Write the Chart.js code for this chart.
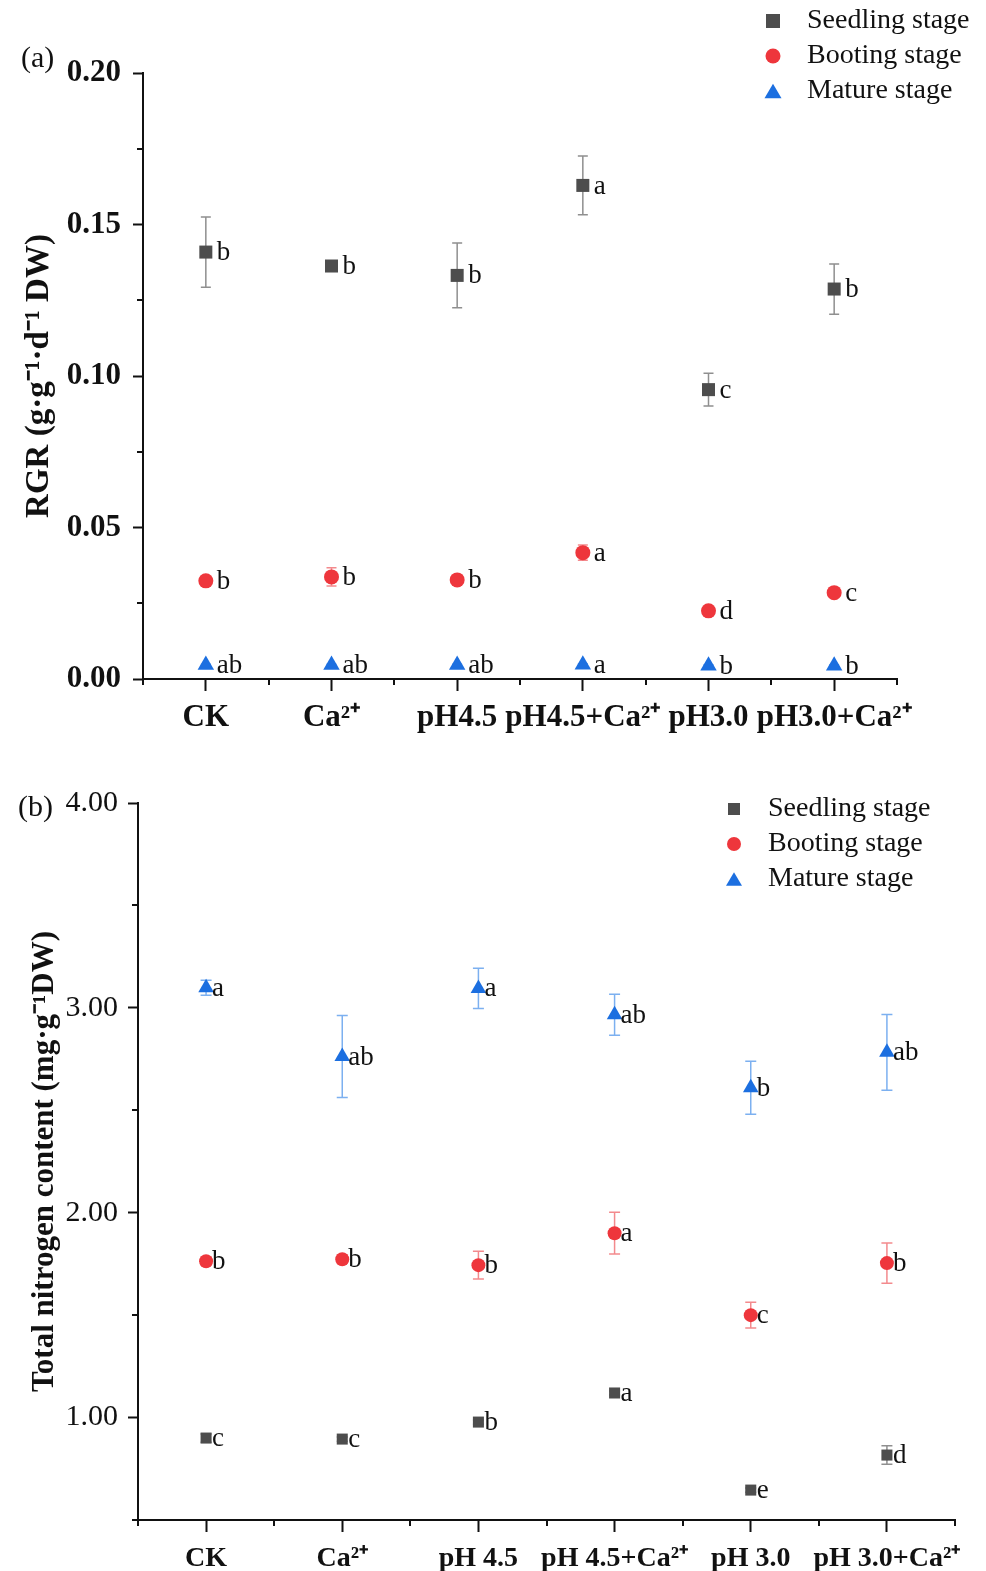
<!DOCTYPE html>
<html><head><meta charset="utf-8">
<script src="https://cdn.jsdelivr.net/npm/chart.js@4.4.1/dist/chart.umd.min.js"></script>
<style>
html,body{margin:0;padding:0;background:#fff;}
#wrap{position:relative;width:986px;height:1571px;overflow:hidden;background:#fff;}
canvas{position:absolute;left:0;}
#cA{top:0;}
#cB{top:745px;}
.panel{position:absolute;font-family:'Liberation Serif','Times New Roman',serif;font-size:30px;color:#111;line-height:36px;}
</style></head><body>
<div id="wrap">
<canvas id="cA" width="986" height="745"></canvas>
<canvas id="cB" width="986" height="826"></canvas>
<div class="panel" style="left:21px;top:39px;">(a)</div>
<div class="panel" style="left:18px;top:788px;">(b)</div>
</div>
<script>
const SERIF = "'Liberation Serif', 'Times New Roman', serif";
Chart.defaults.font.family = SERIF;
Chart.defaults.color = '#111';

// ---------- data ----------
const seriesNames = ['Seedling stage', 'Booting stage', 'Mature stage'];
const categoriesA = ['CK', 'Ca²⁺', 'pH4.5', 'pH4.5+Ca²⁺', 'pH3.0', 'pH3.0+Ca²⁺'];
const categoriesB = ['CK', 'Ca²⁺', 'pH 4.5', 'pH 4.5+Ca²⁺', 'pH 3.0', 'pH 3.0+Ca²⁺'];
const xTickValues = [0, 1, 2, 3, 4, 5];
const xMinorValues = [-0.5, 0.5, 1.5, 2.5, 3.5, 4.5, 5.5];

// (a) RGR
const rgrTicks = [0, 0.05, 0.10, 0.15, 0.20];
const rgrMinor = [0.025, 0.075, 0.125, 0.175];
const rgrSeedling    = [0.1409, 0.1363, 0.1332, 0.1629, 0.0955, 0.1287];
const rgrSeedlingErr = [0.0116, 0.0015, 0.0107, 0.0097, 0.0054, 0.0083];
const rgrBooting     = [0.0324, 0.0337, 0.0327, 0.0417, 0.0225, 0.0285];
const rgrBootingErr  = [0.0008, 0.0030, 0.0008, 0.0025, 0.0008, 0.0008];
const rgrMature      = [0.0046, 0.0046, 0.0046, 0.0047, 0.0044, 0.0044];
const rgrMatureErr   = [0.0003, 0.0003, 0.0003, 0.0003, 0.0003, 0.0003];
const rgrLettersSeedling = ['b', 'b', 'b', 'a', 'c', 'b'];
const rgrLettersBooting  = ['b', 'b', 'b', 'a', 'd', 'c'];
const rgrLettersMature   = ['ab', 'ab', 'ab', 'a', 'b', 'b'];

// (b) Total nitrogen content
const tnTicks = [1, 2, 3, 4];
const tnMinor = [0.5, 1.5, 2.5, 3.5];
const tnSeedling    = [0.900, 0.895, 0.978, 1.120, 0.646, 0.817];
const tnSeedlingErr = [0.020, 0.010, 0.010, 0.010, 0.010, 0.045];
const tnBooting     = [1.763, 1.773, 1.744, 1.900, 1.500, 1.754];
const tnBootingErr  = [0.020, 0.020, 0.068, 0.102, 0.063, 0.098];
const tnMature      = [3.098, 2.763, 3.095, 2.966, 2.610, 2.783];
const tnMatureErr   = [0.037, 0.200, 0.098, 0.100, 0.129, 0.185];
const tnLettersSeedling = ['c', 'c', 'b', 'a', 'e', 'd'];
const tnLettersBooting  = ['b', 'b', 'b', 'a', 'c', 'b'];
const tnLettersMature   = ['a', 'ab', 'a', 'ab', 'b', 'ab'];

// ---------- styles ----------
const seriesColors = ['#4d4d4d', '#ee363c', '#1c6fe0'];
const errorColors  = ['#8f8f8f', '#f38a8d', '#7cb0f0'];
const pointStyles  = ['rect', 'circle', 'triangle'];

function iconCanvas(shape, color, size) {
  const c = document.createElement('canvas');
  c.width = 24; c.height = 24;
  const g = c.getContext('2d');
  g.fillStyle = color;
  const m = 12;
  if (shape === 'rect') {
    g.fillRect(m - size / 2, m - size / 2, size, size);
  } else if (shape === 'circle') {
    g.beginPath(); g.arc(m, m, size / 2, 0, Math.PI * 2); g.fill();
  } else {
    const h = size * 0.85;
    g.beginPath(); g.moveTo(m, m - h / 2); g.lineTo(m + size / 2, m + h / 2); g.lineTo(m - size / 2, m + h / 2); g.closePath(); g.fill();
  }
  return c;
}

// ---------- plugins ----------
const floatLegend = {
  id: 'floatLegend',
  beforeLayout(chart) {
    const lg = chart.legend;
    if (lg && !lg._floatPatched) {
      const orig = lg.fit.bind(lg);
      lg.fit = function () { orig(); this.width = 0; };
      lg._floatPatched = true;
    }
  },
  afterLayout(chart, args, opts) {
    const lg = chart.legend;
    if (!lg) return;
    lg.left = opts.x; lg.top = opts.y;
    lg.width = 260; lg.height = 200;
    lg.right = lg.left + lg.width; lg.bottom = lg.top + lg.height;
  }
};

const errorBars = {
  id: 'errorBars',
  beforeDatasetsDraw(chart, args, opts) {
    const { ctx, scales: { x, y } } = chart;
    chart.data.datasets.forEach((ds, i) => {
      const errs = opts.errors[i];
      ctx.save();
      ctx.strokeStyle = errorColors[i];
      ctx.lineWidth = opts.width;
      ds.data.forEach((pt, j) => {
        const e = errs[j];
        const px = x.getPixelForValue(pt.x);
        const t = y.getPixelForValue(pt.y + e);
        const b = y.getPixelForValue(pt.y - e);
        ctx.beginPath();
        ctx.moveTo(px, t); ctx.lineTo(px, b);
        ctx.moveTo(px - opts.cap, t); ctx.lineTo(px + opts.cap, t);
        ctx.moveTo(px - opts.cap, b); ctx.lineTo(px + opts.cap, b);
        ctx.stroke();
      });
      ctx.restore();
    });
  }
};

const sigLetters = {
  id: 'sigLetters',
  afterDatasetsDraw(chart, args, opts) {
    const { ctx, scales: { x, y } } = chart;
    ctx.save();
    ctx.font = opts.font;
    ctx.fillStyle = '#111';
    ctx.textAlign = 'left';
    ctx.textBaseline = 'middle';
    chart.data.datasets.forEach((ds, i) => {
      ds.data.forEach((pt, j) => {
        ctx.fillText(opts.letters[i][j], x.getPixelForValue(pt.x) + opts.dx, y.getPixelForValue(pt.y) + opts.dy);
      });
    });
    ctx.restore();
  }
};

const minorTicks = {
  id: 'minorTicks',
  afterDraw(chart, args, opts) {
    const { ctx, chartArea, scales: { x, y } } = chart;
    ctx.save();
    ctx.strokeStyle = '#111';
    ctx.lineWidth = 2;
    ctx.beginPath();
    opts.xValues.forEach(v => {
      const px = Math.round(x.getPixelForValue(v));
      ctx.moveTo(px, chartArea.bottom); ctx.lineTo(px, chartArea.bottom + opts.len);
    });
    opts.yValues.forEach(v => {
      const py = Math.round(y.getPixelForValue(v));
      ctx.moveTo(chartArea.left, py); ctx.lineTo(chartArea.left - opts.len, py);
    });
    ctx.stroke();
    ctx.restore();
  }
};

function buildChart(p) {
  const datasets = p.series.map((vals, i) => ({
    label: seriesNames[i],
    data: vals.map((v, j) => ({ x: xTickValues[j], y: v })),
    pointStyle: pointStyles[i],
    pointRadius: p.radii[i],
    pointHoverRadius: p.radii[i],
    backgroundColor: seriesColors[i],
    borderColor: seriesColors[i],
    borderWidth: 0,
    showLine: false
  }));
  const icons = p.iconSizes.map((s, i) => iconCanvas(pointStyles[i], seriesColors[i], s));
  return new Chart(document.getElementById(p.id), {
    type: 'scatter',
    data: { datasets },
    options: {
      responsive: false,
      animation: false,
      devicePixelRatio: 1,
      layout: { padding: { left: 0, top: p.padTop, right: p.padRight, bottom: 0 } },
      scales: {
        x: {
          type: 'linear', min: -0.5, max: 5.5,
          afterBuildTicks: s => { s.ticks = xTickValues.map(v => ({ value: v })); },
          afterFit: s => { s.height = p.xAxisH; },
          ticks: {
            autoSkip: false, maxRotation: 0, minRotation: 0,
            padding: p.xTickPad, color: '#111',
            font: { family: SERIF, size: p.xFontSize, weight: 'bold' },
            callback: v => p.categories[v]
          },
          grid: { drawOnChartArea: false, drawTicks: true, tickLength: 12, tickWidth: 2, tickColor: '#111' },
          border: { display: true, color: '#111', width: 2 }
        },
        y: {
          type: 'linear', min: p.yMin, max: p.yMax,
          afterBuildTicks: s => { s.ticks = p.yTicks.map(v => ({ value: v })); },
          afterFit: s => { s.width = p.yAxisW; },
          ticks: {
            padding: p.yTickPad, color: '#111',
            font: { family: SERIF, size: p.yFontSize, weight: p.yFontWeight },
            callback: v => Number(v).toFixed(2)
          },
          grid: { drawOnChartArea: false, drawTicks: true, tickLength: 10, tickWidth: 2, tickColor: '#111' },
          border: { display: true, color: '#111', width: 2 },
          title: {
            display: true, text: p.yTitle, color: '#111',
            font: { family: SERIF, size: p.yTitleSize, weight: 'bold' },
            padding: { top: p.yTitlePad, bottom: 0 }
          }
        }
      },
      plugins: {
        tooltip: { enabled: false },
        legend: {
          display: true, position: 'right', align: 'start',
          labels: {
            usePointStyle: true, pointStyleWidth: 40, padding: 7, color: '#111',
            font: { family: SERIF, size: 28 },
            generateLabels(chart) {
              const items = Chart.defaults.plugins.legend.labels.generateLabels(chart);
              items.forEach((it, i) => { it.pointStyle = icons[i]; });
              return items;
            }
          }
        },
        floatLegend: { x: p.legendX, y: p.legendY },
        errorBars: { errors: p.errors, cap: p.cap, width: 1.5 },
        sigLetters: { letters: p.letters, dx: p.letterDx, dy: 1, font: '27px ' + SERIF },
        minorTicks: { xValues: xMinorValues, yValues: p.yMinor, len: 6 }
      }
    },
    plugins: [floatLegend, errorBars, sigLetters, minorTicks]
  });
}

buildChart({
  id: 'cA',
  categories: categoriesA,
  series: [rgrSeedling, rgrBooting, rgrMature],
  errors: [rgrSeedlingErr, rgrBootingErr, rgrMatureErr],
  letters: [rgrLettersSeedling, rgrLettersBooting, rgrLettersMature],
  radii: [9.2, 7.5, 9.5],
  iconSizes: [14, 15, 17],
  yMin: 0, yMax: 0.2, yTicks: rgrTicks, yMinor: rgrMinor,
  yTitle: 'RGR (g·g⁻¹·d⁻¹ DW)', yTitleSize: 33, yTitlePad: 20,
  yFontSize: 31, yFontWeight: 'bold', yTickPad: 12,
  xFontSize: 31, xTickPad: 8,
  padTop: 73, padRight: 89, yAxisW: 143, xAxisH: 66,
  legendX: 746, legendY: 0,
  cap: 5, letterDx: 11
});

buildChart({
  id: 'cB',
  categories: categoriesB,
  series: [tnSeedling, tnBooting, tnMature],
  errors: [tnSeedlingErr, tnBootingErr, tnMatureErr],
  letters: [tnLettersSeedling, tnLettersBooting, tnLettersMature],
  radii: [7.8, 7, 9],
  iconSizes: [12, 14, 16],
  yMin: 0.5, yMax: 4, yTicks: tnTicks, yMinor: tnMinor,
  yTitle: 'Total nitrogen content (mg·g⁻¹DW)', yTitleSize: 31, yTitlePad: 26,
  yFontSize: 30, yFontWeight: 'normal', yTickPad: 10,
  xFontSize: 28, xTickPad: 10,
  padTop: 58, padRight: 31, yAxisW: 138, xAxisH: 51,
  legendX: 707, legendY: 43,
  cap: 5.5, letterDx: 6
});
</script>
</body></html>
